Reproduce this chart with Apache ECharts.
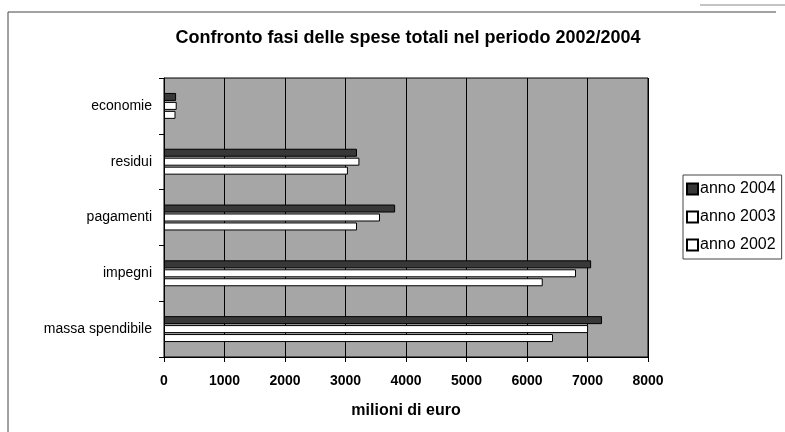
<!DOCTYPE html>
<html>
	<head>
		<meta charset="utf-8" />
		<title>Confronto fasi delle spese totali</title>
		<script src="https://cdn.jsdelivr.net/npm/echarts@6/dist/echarts.min.js"></script>
	</head>
	<body style="margin:0;background:#fff;">
		<div id="main" style="width: 785px;height:432px;"></div>
		<script type="text/javascript">
			// categorie dal basso verso l'alto
			var categorie = ['massa spendibile', 'impegni', 'pagamenti', 'residui', 'economie'];
			var anni = ['anno 2004', 'anno 2003', 'anno 2002'];
			var valori2004 = [7240, 7060, 3820, 3190, 200];
			var valori2003 = [7010, 6810, 3570, 3230, 210];
			var valori2002 = [6430, 6260, 3190, 3040, 190];
			var tickX = [0, 1000, 2000, 3000, 4000, 5000, 6000, 7000, 8000];

			var font = 'Liberation Sans';
			var myChart = echarts.init(document.getElementById('main'));

			function serie(nome, dati, colore) {
				return {
					name: nome,
					type: 'bar',
					data: dati,
					barWidth: 8,
					barGap: '12%',
					itemStyle: { color: colore, borderColor: '#000', borderWidth: 1 }
				};
			}

			var option = {
				animation: false,
				textStyle: { fontFamily: font },
				title: {
					text: 'Confronto fasi delle spese totali nel periodo 2002/2004',
					left: 403,
					textAlign: 'center',
					top: 24,
					textStyle: { fontFamily: font, fontSize: 18, fontWeight: 'bold', color: '#000' }
				},
				graphic: [{
					type: 'polyline',
					shape: { points: [[8, 432], [8, 12], [776, 12]] },
					style: { stroke: '#444', lineWidth: 1, fill: null }
				}, {
					type: 'line',
					shape: { x1: 700, y1: 5, x2: 785, y2: 5 },
					style: { stroke: '#888', lineWidth: 1 }
				}],
				legend: {
					data: anni,
					orient: 'vertical',
					left: 683,
					top: 175,
					padding: [6, 6, 6, 3],
					itemGap: 12,
					itemWidth: 11,
					itemHeight: 11,
					icon: 'rect',
					borderColor: '#444',
					borderWidth: 1,
					textStyle: { fontFamily: font, fontSize: 16, color: '#000', padding: [0, 0, 0, -3] }
				},
				grid: {
					left: 164,
					right: 137,
					top: 78,
					bottom: 75,
					show: true,
					backgroundColor: '#a6a6a6',
					borderColor: '#000',
					borderWidth: 1
				},
				xAxis: {
					type: 'value',
					min: tickX[0],
					max: tickX[tickX.length - 1],
					interval: 1000,
					name: 'milioni di euro',
					nameLocation: 'middle',
					nameGap: 46,
					nameTextStyle: { fontFamily: font, fontSize: 16, fontWeight: 'bold', color: '#000' },
					axisLine: { show: true, lineStyle: { color: '#000' } },
					axisTick: { show: true, length: 5, lineStyle: { color: '#000' } },
					axisLabel: {
						fontFamily: font, fontSize: 14, fontWeight: 'bold', color: '#000', margin: 17,
						formatter: function (v) { return String(v); }
					},
					splitLine: { show: true, lineStyle: { color: '#000', width: 1 } }
				},
				yAxis: {
					type: 'category',
					data: categorie,
					axisLine: { show: true, lineStyle: { color: '#000' } },
					axisTick: { show: true, length: 5, lineStyle: { color: '#000' } },
					axisLabel: { fontFamily: font, fontSize: 14, color: '#000', margin: 12 }
				},
				series: [
					serie(anni[0], valori2004, '#383838'),
					serie(anni[1], valori2003, '#ffffff'),
					serie(anni[2], valori2002, '#ffffff')
				]
			};
			myChart.setOption(option);
		</script>
	</body>
</html>
